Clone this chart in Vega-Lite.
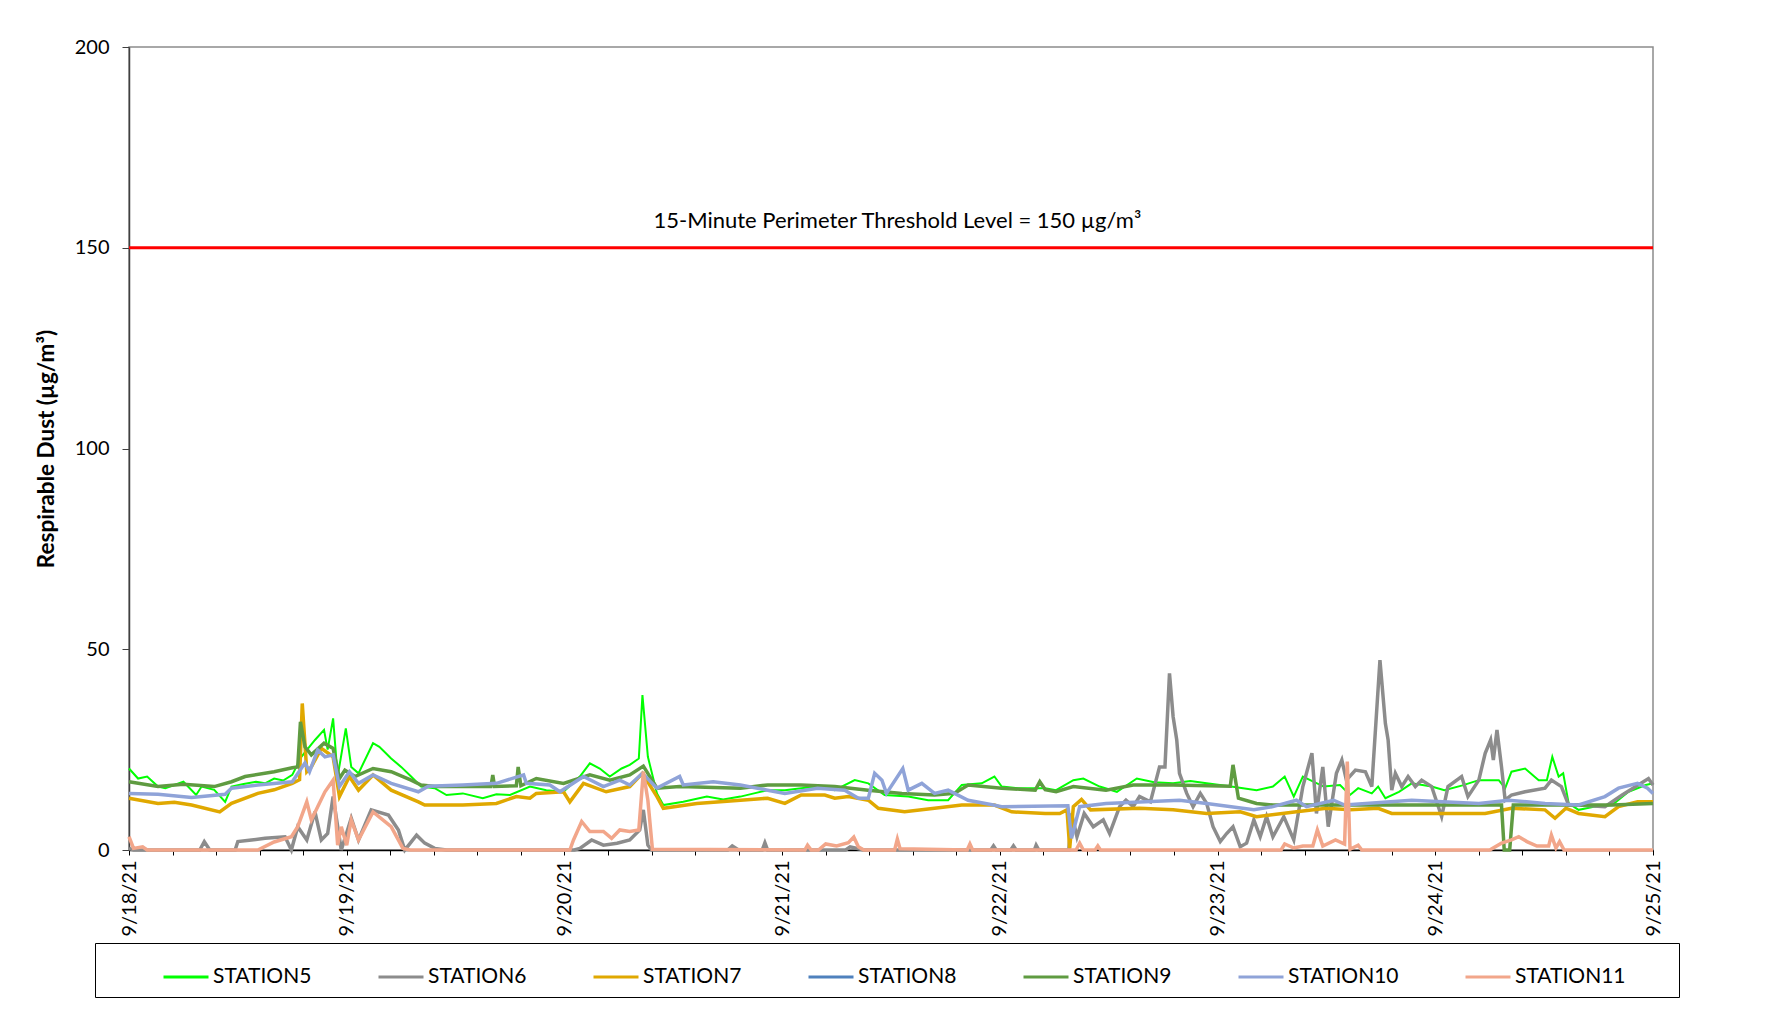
{
"$schema": "https://vega.github.io/schema/vega-lite/v6.json",
"width": 1524, "height": 803,
"autosize": "none",
"padding": {"left": 129, "top": 47, "right": 129, "bottom": 176},
"background": "white",
"config": {"view": {"stroke": "#8c8c8c", "strokeWidth": 1.5}, "font": "Lato", "text": {"font": "Lato"}},
"data": {"values": [
{"s":"STATION5","t":"2021-09-18T00:00","v":20.3},{"s":"STATION5","t":"2021-09-18T01:00","v":17.8},{"s":"STATION5","t":"2021-09-18T02:00","v":18.3},{"s":"STATION5","t":"2021-09-18T03:12","v":15.8},{"s":"STATION5","t":"2021-09-18T04:00","v":15.4},{"s":"STATION5","t":"2021-09-18T05:00","v":16.2},{"s":"STATION5","t":"2021-09-18T06:00","v":17.0},{"s":"STATION5","t":"2021-09-18T07:24","v":13.7},{"s":"STATION5","t":"2021-09-18T08:00","v":15.8},{"s":"STATION5","t":"2021-09-18T09:24","v":15.0},{"s":"STATION5","t":"2021-09-18T10:36","v":12.0},{"s":"STATION5","t":"2021-09-18T11:18","v":15.8},{"s":"STATION5","t":"2021-09-18T12:30","v":16.4},{"s":"STATION5","t":"2021-09-18T14:00","v":17.0},{"s":"STATION5","t":"2021-09-18T15:00","v":16.6},{"s":"STATION5","t":"2021-09-18T16:00","v":17.8},{"s":"STATION5","t":"2021-09-18T17:00","v":17.3},{"s":"STATION5","t":"2021-09-18T18:00","v":18.7},{"s":"STATION5","t":"2021-09-18T19:00","v":23.2},{"s":"STATION5","t":"2021-09-18T20:30","v":27.4},{"s":"STATION5","t":"2021-09-18T21:30","v":29.9},{"s":"STATION5","t":"2021-09-18T21:54","v":25.0},{"s":"STATION5","t":"2021-09-18T22:30","v":32.8},{"s":"STATION5","t":"2021-09-18T23:00","v":18.3},{"s":"STATION5","t":"2021-09-18T23:54","v":30.3},{"s":"STATION5","t":"2021-09-19T00:30","v":20.7},{"s":"STATION5","t":"2021-09-19T01:18","v":19.1},{"s":"STATION5","t":"2021-09-19T02:54","v":26.6},{"s":"STATION5","t":"2021-09-19T03:36","v":25.7},{"s":"STATION5","t":"2021-09-19T04:54","v":22.8},{"s":"STATION5","t":"2021-09-19T06:00","v":20.7},{"s":"STATION5","t":"2021-09-19T07:06","v":18.3},{"s":"STATION5","t":"2021-09-19T08:12","v":15.8},{"s":"STATION5","t":"2021-09-19T09:42","v":15.4},{"s":"STATION5","t":"2021-09-19T11:00","v":13.7},{"s":"STATION5","t":"2021-09-19T12:48","v":14.1},{"s":"STATION5","t":"2021-09-19T15:00","v":12.9},{"s":"STATION5","t":"2021-09-19T16:30","v":13.9},{"s":"STATION5","t":"2021-09-19T18:00","v":13.7},{"s":"STATION5","t":"2021-09-19T20:12","v":15.8},{"s":"STATION5","t":"2021-09-19T22:00","v":14.9},{"s":"STATION5","t":"2021-09-19T23:54","v":14.5},{"s":"STATION5","t":"2021-09-20T01:42","v":18.3},{"s":"STATION5","t":"2021-09-20T02:48","v":21.6},{"s":"STATION5","t":"2021-09-20T03:54","v":20.3},{"s":"STATION5","t":"2021-09-20T05:00","v":18.3},{"s":"STATION5","t":"2021-09-20T06:18","v":20.3},{"s":"STATION5","t":"2021-09-20T07:12","v":21.2},{"s":"STATION5","t":"2021-09-20T08:12","v":22.8},{"s":"STATION5","t":"2021-09-20T08:36","v":38.6},{"s":"STATION5","t":"2021-09-20T09:12","v":23.2},{"s":"STATION5","t":"2021-09-20T10:12","v":14.1},{"s":"STATION5","t":"2021-09-20T10:54","v":11.2},{"s":"STATION5","t":"2021-09-20T13:06","v":12.0},{"s":"STATION5","t":"2021-09-20T15:42","v":13.3},{"s":"STATION5","t":"2021-09-20T17:30","v":12.6},{"s":"STATION5","t":"2021-09-20T19:24","v":13.3},{"s":"STATION5","t":"2021-09-20T20:54","v":14.1},{"s":"STATION5","t":"2021-09-20T22:24","v":14.9},{"s":"STATION5","t":"2021-09-21T00:18","v":14.9},{"s":"STATION5","t":"2021-09-21T02:06","v":15.4},{"s":"STATION5","t":"2021-09-21T03:54","v":15.8},{"s":"STATION5","t":"2021-09-21T05:48","v":14.9},{"s":"STATION5","t":"2021-09-21T08:00","v":17.4},{"s":"STATION5","t":"2021-09-21T09:30","v":16.6},{"s":"STATION5","t":"2021-09-21T11:18","v":13.7},{"s":"STATION5","t":"2021-09-21T13:54","v":13.3},{"s":"STATION5","t":"2021-09-21T16:06","v":12.4},{"s":"STATION5","t":"2021-09-21T18:18","v":12.4},{"s":"STATION5","t":"2021-09-21T19:48","v":16.2},{"s":"STATION5","t":"2021-09-21T22:00","v":16.6},{"s":"STATION5","t":"2021-09-21T23:24","v":18.3},{"s":"STATION5","t":"2021-09-22T00:12","v":15.8},{"s":"STATION5","t":"2021-09-22T02:00","v":15.4},{"s":"STATION5","t":"2021-09-22T05:00","v":15.4},{"s":"STATION5","t":"2021-09-22T06:12","v":14.9},{"s":"STATION5","t":"2021-09-22T08:06","v":17.4},{"s":"STATION5","t":"2021-09-22T09:12","v":17.8},{"s":"STATION5","t":"2021-09-22T11:00","v":15.8},{"s":"STATION5","t":"2021-09-22T12:54","v":14.5},{"s":"STATION5","t":"2021-09-22T15:06","v":17.8},{"s":"STATION5","t":"2021-09-22T17:00","v":16.9},{"s":"STATION5","t":"2021-09-22T19:06","v":16.6},{"s":"STATION5","t":"2021-09-22T21:00","v":17.2},{"s":"STATION5","t":"2021-09-22T22:48","v":16.6},{"s":"STATION5","t":"2021-09-23T01:30","v":15.8},{"s":"STATION5","t":"2021-09-23T04:18","v":14.9},{"s":"STATION5","t":"2021-09-23T06:06","v":15.8},{"s":"STATION5","t":"2021-09-23T07:24","v":18.3},{"s":"STATION5","t":"2021-09-23T08:24","v":13.3},{"s":"STATION5","t":"2021-09-23T09:24","v":18.3},{"s":"STATION5","t":"2021-09-23T11:42","v":15.8},{"s":"STATION5","t":"2021-09-23T13:30","v":16.2},{"s":"STATION5","t":"2021-09-23T14:36","v":13.7},{"s":"STATION5","t":"2021-09-23T15:30","v":15.4},{"s":"STATION5","t":"2021-09-23T17:00","v":14.1},{"s":"STATION5","t":"2021-09-23T17:42","v":15.8},{"s":"STATION5","t":"2021-09-23T18:30","v":12.9},{"s":"STATION5","t":"2021-09-23T20:00","v":14.5},{"s":"STATION5","t":"2021-09-23T21:24","v":16.6},{"s":"STATION5","t":"2021-09-23T23:36","v":15.8},{"s":"STATION5","t":"2021-09-24T01:00","v":14.9},{"s":"STATION5","t":"2021-09-24T03:00","v":16.1},{"s":"STATION5","t":"2021-09-24T04:48","v":17.4},{"s":"STATION5","t":"2021-09-24T07:00","v":17.4},{"s":"STATION5","t":"2021-09-24T07:42","v":15.4},{"s":"STATION5","t":"2021-09-24T08:24","v":19.5},{"s":"STATION5","t":"2021-09-24T09:54","v":20.3},{"s":"STATION5","t":"2021-09-24T11:24","v":17.4},{"s":"STATION5","t":"2021-09-24T12:18","v":17.4},{"s":"STATION5","t":"2021-09-24T12:54","v":23.2},{"s":"STATION5","t":"2021-09-24T13:36","v":18.3},{"s":"STATION5","t":"2021-09-24T14:06","v":19.1},{"s":"STATION5","t":"2021-09-24T14:42","v":11.6},{"s":"STATION5","t":"2021-09-24T15:48","v":10.0},{"s":"STATION5","t":"2021-09-24T17:36","v":10.8},{"s":"STATION5","t":"2021-09-24T19:30","v":11.2},{"s":"STATION5","t":"2021-09-24T21:18","v":14.5},{"s":"STATION5","t":"2021-09-24T23:12","v":16.2},{"s":"STATION5","t":"2021-09-25T00:00","v":16.6},
{"s":"STATION6","t":"2021-09-18T00:00","v":0.4},{"s":"STATION6","t":"2021-09-18T00:30","v":0},{"s":"STATION6","t":"2021-09-18T07:48","v":0},{"s":"STATION6","t":"2021-09-18T08:18","v":2.1},{"s":"STATION6","t":"2021-09-18T08:54","v":0},{"s":"STATION6","t":"2021-09-18T11:42","v":0},{"s":"STATION6","t":"2021-09-18T12:00","v":2.1},{"s":"STATION6","t":"2021-09-18T13:30","v":2.5},{"s":"STATION6","t":"2021-09-18T15:00","v":2.9},{"s":"STATION6","t":"2021-09-18T17:12","v":3.3},{"s":"STATION6","t":"2021-09-18T17:54","v":0},{"s":"STATION6","t":"2021-09-18T18:36","v":5.8},{"s":"STATION6","t":"2021-09-18T19:36","v":2.5},{"s":"STATION6","t":"2021-09-18T20:30","v":9.5},{"s":"STATION6","t":"2021-09-18T21:12","v":2.5},{"s":"STATION6","t":"2021-09-18T21:54","v":4.1},{"s":"STATION6","t":"2021-09-18T22:30","v":13.3},{"s":"STATION6","t":"2021-09-18T23:24","v":0},{"s":"STATION6","t":"2021-09-19T00:30","v":7.9},{"s":"STATION6","t":"2021-09-19T01:18","v":2.5},{"s":"STATION6","t":"2021-09-19T02:42","v":10.0},{"s":"STATION6","t":"2021-09-19T04:36","v":8.7},{"s":"STATION6","t":"2021-09-19T05:42","v":5.0},{"s":"STATION6","t":"2021-09-19T06:24","v":0},{"s":"STATION6","t":"2021-09-19T07:42","v":3.7},{"s":"STATION6","t":"2021-09-19T08:36","v":1.7},{"s":"STATION6","t":"2021-09-19T09:42","v":0.4},{"s":"STATION6","t":"2021-09-19T11:00","v":0},{"s":"STATION6","t":"2021-09-20T01:06","v":0},{"s":"STATION6","t":"2021-09-20T01:42","v":0.4},{"s":"STATION6","t":"2021-09-20T03:00","v":2.5},{"s":"STATION6","t":"2021-09-20T04:18","v":1.2},{"s":"STATION6","t":"2021-09-20T05:48","v":1.7},{"s":"STATION6","t":"2021-09-20T07:12","v":2.5},{"s":"STATION6","t":"2021-09-20T08:18","v":5.0},{"s":"STATION6","t":"2021-09-20T08:42","v":10.0},{"s":"STATION6","t":"2021-09-20T09:12","v":1.2},{"s":"STATION6","t":"2021-09-20T09:36","v":0},{"s":"STATION6","t":"2021-09-20T18:00","v":0},{"s":"STATION6","t":"2021-09-20T18:30","v":1.0},{"s":"STATION6","t":"2021-09-20T19:12","v":0},{"s":"STATION6","t":"2021-09-20T21:48","v":0},{"s":"STATION6","t":"2021-09-20T22:06","v":1.8},{"s":"STATION6","t":"2021-09-20T22:24","v":0},{"s":"STATION6","t":"2021-09-21T07:00","v":0},{"s":"STATION6","t":"2021-09-21T07:30","v":0.8},{"s":"STATION6","t":"2021-09-21T09:00","v":0},{"s":"STATION6","t":"2021-09-21T23:00","v":0},{"s":"STATION6","t":"2021-09-21T23:18","v":1.0},{"s":"STATION6","t":"2021-09-21T23:36","v":0},{"s":"STATION6","t":"2021-09-22T01:12","v":0},{"s":"STATION6","t":"2021-09-22T01:30","v":1.0},{"s":"STATION6","t":"2021-09-22T01:48","v":0},{"s":"STATION6","t":"2021-09-22T03:48","v":0},{"s":"STATION6","t":"2021-09-22T04:00","v":1.2},{"s":"STATION6","t":"2021-09-22T04:18","v":0},{"s":"STATION6","t":"2021-09-22T07:36","v":0},{"s":"STATION6","t":"2021-09-22T07:54","v":9.1},{"s":"STATION6","t":"2021-09-22T08:30","v":3.3},{"s":"STATION6","t":"2021-09-22T09:18","v":9.1},{"s":"STATION6","t":"2021-09-22T10:18","v":5.8},{"s":"STATION6","t":"2021-09-22T11:24","v":7.5},{"s":"STATION6","t":"2021-09-22T12:06","v":4.1},{"s":"STATION6","t":"2021-09-22T13:12","v":10.8},{"s":"STATION6","t":"2021-09-22T13:54","v":12.4},{"s":"STATION6","t":"2021-09-22T14:42","v":10.8},{"s":"STATION6","t":"2021-09-22T15:24","v":13.3},{"s":"STATION6","t":"2021-09-22T16:36","v":12.0},{"s":"STATION6","t":"2021-09-22T17:36","v":20.7},{"s":"STATION6","t":"2021-09-22T18:12","v":20.7},{"s":"STATION6","t":"2021-09-22T18:42","v":44.0},{"s":"STATION6","t":"2021-09-22T19:06","v":33.2},{"s":"STATION6","t":"2021-09-22T19:30","v":27.4},{"s":"STATION6","t":"2021-09-22T19:48","v":19.1},{"s":"STATION6","t":"2021-09-22T20:36","v":14.1},{"s":"STATION6","t":"2021-09-22T21:18","v":10.8},{"s":"STATION6","t":"2021-09-22T22:06","v":14.1},{"s":"STATION6","t":"2021-09-22T22:48","v":11.6},{"s":"STATION6","t":"2021-09-22T23:30","v":5.8},{"s":"STATION6","t":"2021-09-23T00:18","v":2.1},{"s":"STATION6","t":"2021-09-23T01:00","v":4.1},{"s":"STATION6","t":"2021-09-23T01:42","v":5.8},{"s":"STATION6","t":"2021-09-23T02:30","v":0.8},{"s":"STATION6","t":"2021-09-23T03:12","v":1.7},{"s":"STATION6","t":"2021-09-23T04:00","v":7.5},{"s":"STATION6","t":"2021-09-23T04:42","v":3.3},{"s":"STATION6","t":"2021-09-23T05:24","v":8.3},{"s":"STATION6","t":"2021-09-23T06:06","v":3.3},{"s":"STATION6","t":"2021-09-23T07:18","v":8.3},{"s":"STATION6","t":"2021-09-23T08:24","v":2.5},{"s":"STATION6","t":"2021-09-23T09:24","v":15.8},{"s":"STATION6","t":"2021-09-23T10:24","v":24.1},{"s":"STATION6","t":"2021-09-23T10:54","v":9.1},{"s":"STATION6","t":"2021-09-23T11:36","v":20.7},{"s":"STATION6","t":"2021-09-23T12:12","v":5.8},{"s":"STATION6","t":"2021-09-23T13:06","v":19.1},{"s":"STATION6","t":"2021-09-23T13:42","v":22.4},{"s":"STATION6","t":"2021-09-23T14:12","v":17.4},{"s":"STATION6","t":"2021-09-23T15:12","v":19.9},{"s":"STATION6","t":"2021-09-23T16:18","v":19.5},{"s":"STATION6","t":"2021-09-23T17:00","v":15.8},{"s":"STATION6","t":"2021-09-23T17:54","v":47.3},{"s":"STATION6","t":"2021-09-23T18:30","v":31.5},{"s":"STATION6","t":"2021-09-23T18:48","v":27.4},{"s":"STATION6","t":"2021-09-23T19:12","v":14.9},{"s":"STATION6","t":"2021-09-23T19:36","v":19.1},{"s":"STATION6","t":"2021-09-23T20:18","v":15.8},{"s":"STATION6","t":"2021-09-23T21:00","v":18.3},{"s":"STATION6","t":"2021-09-23T21:48","v":15.8},{"s":"STATION6","t":"2021-09-23T22:30","v":17.4},{"s":"STATION6","t":"2021-09-23T23:36","v":15.8},{"s":"STATION6","t":"2021-09-24T00:42","v":8.3},{"s":"STATION6","t":"2021-09-24T01:24","v":15.8},{"s":"STATION6","t":"2021-09-24T02:54","v":18.3},{"s":"STATION6","t":"2021-09-24T03:36","v":13.3},{"s":"STATION6","t":"2021-09-24T04:48","v":17.4},{"s":"STATION6","t":"2021-09-24T05:30","v":24.1},{"s":"STATION6","t":"2021-09-24T06:06","v":27.4},{"s":"STATION6","t":"2021-09-24T06:24","v":22.4},{"s":"STATION6","t":"2021-09-24T06:48","v":29.9},{"s":"STATION6","t":"2021-09-24T07:18","v":20.7},{"s":"STATION6","t":"2021-09-24T07:42","v":12.4},{"s":"STATION6","t":"2021-09-24T08:24","v":13.7},{"s":"STATION6","t":"2021-09-24T09:54","v":14.5},{"s":"STATION6","t":"2021-09-24T12:06","v":15.4},{"s":"STATION6","t":"2021-09-24T12:48","v":17.4},{"s":"STATION6","t":"2021-09-24T13:54","v":15.8},{"s":"STATION6","t":"2021-09-24T14:42","v":11.2},{"s":"STATION6","t":"2021-09-24T15:48","v":11.2},{"s":"STATION6","t":"2021-09-24T18:42","v":10.8},{"s":"STATION6","t":"2021-09-24T20:36","v":13.7},{"s":"STATION6","t":"2021-09-24T22:06","v":15.8},{"s":"STATION6","t":"2021-09-24T23:30","v":17.8},{"s":"STATION6","t":"2021-09-25T00:00","v":16.2},
{"s":"STATION7","t":"2021-09-18T00:00","v":12.9},{"s":"STATION7","t":"2021-09-18T03:12","v":11.6},{"s":"STATION7","t":"2021-09-18T05:00","v":11.9},{"s":"STATION7","t":"2021-09-18T06:54","v":11.2},{"s":"STATION7","t":"2021-09-18T10:00","v":9.5},{"s":"STATION7","t":"2021-09-18T11:18","v":11.6},{"s":"STATION7","t":"2021-09-18T14:12","v":14.1},{"s":"STATION7","t":"2021-09-18T16:00","v":15.0},{"s":"STATION7","t":"2021-09-18T18:00","v":16.6},{"s":"STATION7","t":"2021-09-18T18:48","v":17.5},{"s":"STATION7","t":"2021-09-18T19:06","v":36.5},{"s":"STATION7","t":"2021-09-18T19:36","v":19.5},{"s":"STATION7","t":"2021-09-18T20:06","v":20.7},{"s":"STATION7","t":"2021-09-18T21:12","v":25.3},{"s":"STATION7","t":"2021-09-18T22:30","v":23.2},{"s":"STATION7","t":"2021-09-18T23:12","v":13.3},{"s":"STATION7","t":"2021-09-19T00:18","v":18.3},{"s":"STATION7","t":"2021-09-19T01:18","v":14.9},{"s":"STATION7","t":"2021-09-19T02:54","v":18.7},{"s":"STATION7","t":"2021-09-19T04:54","v":14.9},{"s":"STATION7","t":"2021-09-19T07:54","v":12.0},{"s":"STATION7","t":"2021-09-19T08:36","v":11.2},{"s":"STATION7","t":"2021-09-19T12:48","v":11.2},{"s":"STATION7","t":"2021-09-19T16:30","v":11.6},{"s":"STATION7","t":"2021-09-19T18:42","v":13.3},{"s":"STATION7","t":"2021-09-19T20:12","v":12.9},{"s":"STATION7","t":"2021-09-19T20:54","v":14.1},{"s":"STATION7","t":"2021-09-19T23:54","v":14.5},{"s":"STATION7","t":"2021-09-20T00:36","v":12.0},{"s":"STATION7","t":"2021-09-20T02:06","v":16.6},{"s":"STATION7","t":"2021-09-20T04:36","v":14.5},{"s":"STATION7","t":"2021-09-20T07:12","v":15.8},{"s":"STATION7","t":"2021-09-20T08:36","v":19.1},{"s":"STATION7","t":"2021-09-20T10:12","v":13.3},{"s":"STATION7","t":"2021-09-20T10:54","v":10.4},{"s":"STATION7","t":"2021-09-20T14:36","v":11.6},{"s":"STATION7","t":"2021-09-20T19:24","v":12.4},{"s":"STATION7","t":"2021-09-20T22:24","v":12.9},{"s":"STATION7","t":"2021-09-21T00:18","v":11.6},{"s":"STATION7","t":"2021-09-21T02:06","v":13.7},{"s":"STATION7","t":"2021-09-21T04:42","v":13.7},{"s":"STATION7","t":"2021-09-21T05:48","v":12.9},{"s":"STATION7","t":"2021-09-21T07:18","v":13.3},{"s":"STATION7","t":"2021-09-21T09:30","v":12.4},{"s":"STATION7","t":"2021-09-21T10:36","v":10.4},{"s":"STATION7","t":"2021-09-21T13:30","v":9.5},{"s":"STATION7","t":"2021-09-21T16:48","v":10.4},{"s":"STATION7","t":"2021-09-21T19:48","v":11.2},{"s":"STATION7","t":"2021-09-21T23:24","v":11.2},{"s":"STATION7","t":"2021-09-22T01:18","v":9.5},{"s":"STATION7","t":"2021-09-22T05:00","v":9.1},{"s":"STATION7","t":"2021-09-22T06:36","v":9.1},{"s":"STATION7","t":"2021-09-22T07:24","v":10.0},{"s":"STATION7","t":"2021-09-22T07:42","v":0.4},{"s":"STATION7","t":"2021-09-22T08:06","v":10.8},{"s":"STATION7","t":"2021-09-22T09:00","v":12.6},{"s":"STATION7","t":"2021-09-22T10:00","v":10.0},{"s":"STATION7","t":"2021-09-22T15:24","v":10.4},{"s":"STATION7","t":"2021-09-22T19:06","v":10.0},{"s":"STATION7","t":"2021-09-22T22:48","v":9.1},{"s":"STATION7","t":"2021-09-23T02:30","v":9.5},{"s":"STATION7","t":"2021-09-23T04:18","v":8.3},{"s":"STATION7","t":"2021-09-23T08:42","v":9.5},{"s":"STATION7","t":"2021-09-23T12:00","v":10.4},{"s":"STATION7","t":"2021-09-23T14:36","v":10.0},{"s":"STATION7","t":"2021-09-23T17:42","v":10.4},{"s":"STATION7","t":"2021-09-23T19:12","v":9.1},{"s":"STATION7","t":"2021-09-24T00:42","v":9.1},{"s":"STATION7","t":"2021-09-24T05:30","v":9.1},{"s":"STATION7","t":"2021-09-24T08:24","v":10.4},{"s":"STATION7","t":"2021-09-24T12:06","v":10.0},{"s":"STATION7","t":"2021-09-24T13:12","v":7.9},{"s":"STATION7","t":"2021-09-24T14:24","v":10.4},{"s":"STATION7","t":"2021-09-24T15:48","v":9.1},{"s":"STATION7","t":"2021-09-24T18:42","v":8.3},{"s":"STATION7","t":"2021-09-24T20:12","v":10.8},{"s":"STATION7","t":"2021-09-24T22:18","v":12.0},{"s":"STATION7","t":"2021-09-25T00:00","v":12.0},
{"s":"STATION9","t":"2021-09-18T00:00","v":17.0},{"s":"STATION9","t":"2021-09-18T03:12","v":15.8},{"s":"STATION9","t":"2021-09-18T06:00","v":16.4},{"s":"STATION9","t":"2021-09-18T09:24","v":15.8},{"s":"STATION9","t":"2021-09-18T11:18","v":17.0},{"s":"STATION9","t":"2021-09-18T12:48","v":18.3},{"s":"STATION9","t":"2021-09-18T16:00","v":19.5},{"s":"STATION9","t":"2021-09-18T18:00","v":20.5},{"s":"STATION9","t":"2021-09-18T18:36","v":20.7},{"s":"STATION9","t":"2021-09-18T18:54","v":31.9},{"s":"STATION9","t":"2021-09-18T19:24","v":25.7},{"s":"STATION9","t":"2021-09-18T20:06","v":23.7},{"s":"STATION9","t":"2021-09-18T21:30","v":26.6},{"s":"STATION9","t":"2021-09-18T22:30","v":25.3},{"s":"STATION9","t":"2021-09-18T23:12","v":17.8},{"s":"STATION9","t":"2021-09-18T23:48","v":19.9},{"s":"STATION9","t":"2021-09-19T00:54","v":18.3},{"s":"STATION9","t":"2021-09-19T02:54","v":20.3},{"s":"STATION9","t":"2021-09-19T04:54","v":19.5},{"s":"STATION9","t":"2021-09-19T07:06","v":17.4},{"s":"STATION9","t":"2021-09-19T08:12","v":16.2},{"s":"STATION9","t":"2021-09-19T09:42","v":15.8},{"s":"STATION9","t":"2021-09-19T12:48","v":15.8},{"s":"STATION9","t":"2021-09-19T15:54","v":15.8},{"s":"STATION9","t":"2021-09-19T16:06","v":18.7},{"s":"STATION9","t":"2021-09-19T16:18","v":15.8},{"s":"STATION9","t":"2021-09-19T18:42","v":16.0},{"s":"STATION9","t":"2021-09-19T18:54","v":20.7},{"s":"STATION9","t":"2021-09-19T19:12","v":16.0},{"s":"STATION9","t":"2021-09-19T20:54","v":17.8},{"s":"STATION9","t":"2021-09-19T23:54","v":16.6},{"s":"STATION9","t":"2021-09-20T02:48","v":18.7},{"s":"STATION9","t":"2021-09-20T05:00","v":17.4},{"s":"STATION9","t":"2021-09-20T07:12","v":18.7},{"s":"STATION9","t":"2021-09-20T08:42","v":20.9},{"s":"STATION9","t":"2021-09-20T10:12","v":15.4},{"s":"STATION9","t":"2021-09-20T12:42","v":15.8},{"s":"STATION9","t":"2021-09-20T19:24","v":15.4},{"s":"STATION9","t":"2021-09-20T22:24","v":16.2},{"s":"STATION9","t":"2021-09-21T02:06","v":16.2},{"s":"STATION9","t":"2021-09-21T05:48","v":15.8},{"s":"STATION9","t":"2021-09-21T09:30","v":14.9},{"s":"STATION9","t":"2021-09-21T13:12","v":14.1},{"s":"STATION9","t":"2021-09-21T16:48","v":13.7},{"s":"STATION9","t":"2021-09-21T19:00","v":14.1},{"s":"STATION9","t":"2021-09-21T20:30","v":16.2},{"s":"STATION9","t":"2021-09-22T00:12","v":15.4},{"s":"STATION9","t":"2021-09-22T03:54","v":14.9},{"s":"STATION9","t":"2021-09-22T04:24","v":17.0},{"s":"STATION9","t":"2021-09-22T05:00","v":15.0},{"s":"STATION9","t":"2021-09-22T06:12","v":14.5},{"s":"STATION9","t":"2021-09-22T08:06","v":15.8},{"s":"STATION9","t":"2021-09-22T11:42","v":14.9},{"s":"STATION9","t":"2021-09-22T14:42","v":16.2},{"s":"STATION9","t":"2021-09-22T19:06","v":16.2},{"s":"STATION9","t":"2021-09-23T01:24","v":15.9},{"s":"STATION9","t":"2021-09-23T01:42","v":21.2},{"s":"STATION9","t":"2021-09-23T02:18","v":12.9},{"s":"STATION9","t":"2021-09-23T04:18","v":11.6},{"s":"STATION9","t":"2021-09-23T06:06","v":11.2},{"s":"STATION9","t":"2021-09-23T14:36","v":11.2},{"s":"STATION9","t":"2021-09-24T01:00","v":11.2},{"s":"STATION9","t":"2021-09-24T07:18","v":11.2},{"s":"STATION9","t":"2021-09-24T07:36","v":0},{"s":"STATION9","t":"2021-09-24T08:12","v":0},{"s":"STATION9","t":"2021-09-24T08:36","v":11.2},{"s":"STATION9","t":"2021-09-24T19:30","v":11.2},{"s":"STATION9","t":"2021-09-25T00:00","v":11.6},
{"s":"STATION10","t":"2021-09-18T00:00","v":14.1},{"s":"STATION10","t":"2021-09-18T03:12","v":13.9},{"s":"STATION10","t":"2021-09-18T06:54","v":13.1},{"s":"STATION10","t":"2021-09-18T10:36","v":13.9},{"s":"STATION10","t":"2021-09-18T11:18","v":15.4},{"s":"STATION10","t":"2021-09-18T14:12","v":16.2},{"s":"STATION10","t":"2021-09-18T18:00","v":17.0},{"s":"STATION10","t":"2021-09-18T19:24","v":21.7},{"s":"STATION10","t":"2021-09-18T19:54","v":19.5},{"s":"STATION10","t":"2021-09-18T20:48","v":24.9},{"s":"STATION10","t":"2021-09-18T21:36","v":23.2},{"s":"STATION10","t":"2021-09-18T22:30","v":23.7},{"s":"STATION10","t":"2021-09-18T23:12","v":15.8},{"s":"STATION10","t":"2021-09-19T00:18","v":19.5},{"s":"STATION10","t":"2021-09-19T01:18","v":16.6},{"s":"STATION10","t":"2021-09-19T02:54","v":18.7},{"s":"STATION10","t":"2021-09-19T04:54","v":16.6},{"s":"STATION10","t":"2021-09-19T07:54","v":14.5},{"s":"STATION10","t":"2021-09-19T09:00","v":15.9},{"s":"STATION10","t":"2021-09-19T12:48","v":16.2},{"s":"STATION10","t":"2021-09-19T16:30","v":16.6},{"s":"STATION10","t":"2021-09-19T19:30","v":18.7},{"s":"STATION10","t":"2021-09-19T19:48","v":16.6},{"s":"STATION10","t":"2021-09-19T22:24","v":16.2},{"s":"STATION10","t":"2021-09-19T23:30","v":14.5},{"s":"STATION10","t":"2021-09-20T02:06","v":18.3},{"s":"STATION10","t":"2021-09-20T04:18","v":15.8},{"s":"STATION10","t":"2021-09-20T06:06","v":17.4},{"s":"STATION10","t":"2021-09-20T07:12","v":16.2},{"s":"STATION10","t":"2021-09-20T08:36","v":19.1},{"s":"STATION10","t":"2021-09-20T10:12","v":15.4},{"s":"STATION10","t":"2021-09-20T12:42","v":18.3},{"s":"STATION10","t":"2021-09-20T13:06","v":16.2},{"s":"STATION10","t":"2021-09-20T16:24","v":17.0},{"s":"STATION10","t":"2021-09-20T19:24","v":16.2},{"s":"STATION10","t":"2021-09-20T22:24","v":14.9},{"s":"STATION10","t":"2021-09-21T00:18","v":14.1},{"s":"STATION10","t":"2021-09-21T03:54","v":15.4},{"s":"STATION10","t":"2021-09-21T06:54","v":14.9},{"s":"STATION10","t":"2021-09-21T08:24","v":12.9},{"s":"STATION10","t":"2021-09-21T09:30","v":12.9},{"s":"STATION10","t":"2021-09-21T10:12","v":19.1},{"s":"STATION10","t":"2021-09-21T11:00","v":17.4},{"s":"STATION10","t":"2021-09-21T11:30","v":14.1},{"s":"STATION10","t":"2021-09-21T13:18","v":20.3},{"s":"STATION10","t":"2021-09-21T13:54","v":14.9},{"s":"STATION10","t":"2021-09-21T15:24","v":16.6},{"s":"STATION10","t":"2021-09-21T16:48","v":14.1},{"s":"STATION10","t":"2021-09-21T18:18","v":14.9},{"s":"STATION10","t":"2021-09-21T20:30","v":12.4},{"s":"STATION10","t":"2021-09-21T23:18","v":11.2},{"s":"STATION10","t":"2021-09-22T00:12","v":10.8},{"s":"STATION10","t":"2021-09-22T07:30","v":11.0},{"s":"STATION10","t":"2021-09-22T07:54","v":2.9},{"s":"STATION10","t":"2021-09-22T08:48","v":10.8},{"s":"STATION10","t":"2021-09-22T11:42","v":11.6},{"s":"STATION10","t":"2021-09-22T19:48","v":12.4},{"s":"STATION10","t":"2021-09-22T22:48","v":11.6},{"s":"STATION10","t":"2021-09-23T04:00","v":10.0},{"s":"STATION10","t":"2021-09-23T06:06","v":10.8},{"s":"STATION10","t":"2021-09-23T08:42","v":12.4},{"s":"STATION10","t":"2021-09-23T09:48","v":10.8},{"s":"STATION10","t":"2021-09-23T12:48","v":12.4},{"s":"STATION10","t":"2021-09-23T14:00","v":11.2},{"s":"STATION10","t":"2021-09-23T21:24","v":12.4},{"s":"STATION10","t":"2021-09-24T04:48","v":11.6},{"s":"STATION10","t":"2021-09-24T08:06","v":12.4},{"s":"STATION10","t":"2021-09-24T12:06","v":11.6},{"s":"STATION10","t":"2021-09-24T15:48","v":11.2},{"s":"STATION10","t":"2021-09-24T18:42","v":13.3},{"s":"STATION10","t":"2021-09-24T20:12","v":15.4},{"s":"STATION10","t":"2021-09-24T22:18","v":16.6},{"s":"STATION10","t":"2021-09-24T23:24","v":15.4},{"s":"STATION10","t":"2021-09-25T00:00","v":14.1},
{"s":"STATION11","t":"2021-09-18T00:00","v":3.3},{"s":"STATION11","t":"2021-09-18T00:30","v":0.4},{"s":"STATION11","t":"2021-09-18T01:30","v":0.8},{"s":"STATION11","t":"2021-09-18T02:00","v":0},{"s":"STATION11","t":"2021-09-18T14:12","v":0},{"s":"STATION11","t":"2021-09-18T16:00","v":2.0},{"s":"STATION11","t":"2021-09-18T17:54","v":3.3},{"s":"STATION11","t":"2021-09-18T18:36","v":5.8},{"s":"STATION11","t":"2021-09-18T19:36","v":12.0},{"s":"STATION11","t":"2021-09-18T20:06","v":7.5},{"s":"STATION11","t":"2021-09-18T20:48","v":10.8},{"s":"STATION11","t":"2021-09-18T21:36","v":14.5},{"s":"STATION11","t":"2021-09-18T22:30","v":17.4},{"s":"STATION11","t":"2021-09-18T23:00","v":1.2},{"s":"STATION11","t":"2021-09-18T23:24","v":5.8},{"s":"STATION11","t":"2021-09-19T00:00","v":1.2},{"s":"STATION11","t":"2021-09-19T00:30","v":7.5},{"s":"STATION11","t":"2021-09-19T01:18","v":2.5},{"s":"STATION11","t":"2021-09-19T02:54","v":9.5},{"s":"STATION11","t":"2021-09-19T04:54","v":5.8},{"s":"STATION11","t":"2021-09-19T06:12","v":0.4},{"s":"STATION11","t":"2021-09-19T07:00","v":0},{"s":"STATION11","t":"2021-09-20T00:36","v":0},{"s":"STATION11","t":"2021-09-20T01:00","v":2.5},{"s":"STATION11","t":"2021-09-20T01:54","v":7.1},{"s":"STATION11","t":"2021-09-20T02:48","v":4.6},{"s":"STATION11","t":"2021-09-20T04:18","v":4.6},{"s":"STATION11","t":"2021-09-20T05:12","v":2.9},{"s":"STATION11","t":"2021-09-20T06:06","v":5.0},{"s":"STATION11","t":"2021-09-20T07:12","v":4.6},{"s":"STATION11","t":"2021-09-20T08:12","v":5.0},{"s":"STATION11","t":"2021-09-20T08:42","v":19.5},{"s":"STATION11","t":"2021-09-20T09:12","v":12.4},{"s":"STATION11","t":"2021-09-20T09:42","v":0.2},{"s":"STATION11","t":"2021-09-21T02:30","v":0},{"s":"STATION11","t":"2021-09-21T02:48","v":1.2},{"s":"STATION11","t":"2021-09-21T03:12","v":0},{"s":"STATION11","t":"2021-09-21T04:00","v":0},{"s":"STATION11","t":"2021-09-21T04:48","v":1.5},{"s":"STATION11","t":"2021-09-21T06:00","v":1.0},{"s":"STATION11","t":"2021-09-21T07:18","v":1.8},{"s":"STATION11","t":"2021-09-21T07:54","v":3.2},{"s":"STATION11","t":"2021-09-21T08:24","v":0.8},{"s":"STATION11","t":"2021-09-21T09:00","v":0},{"s":"STATION11","t":"2021-09-21T12:24","v":0},{"s":"STATION11","t":"2021-09-21T12:42","v":2.7},{"s":"STATION11","t":"2021-09-21T13:00","v":0.3},{"s":"STATION11","t":"2021-09-21T20:24","v":0},{"s":"STATION11","t":"2021-09-21T20:42","v":1.5},{"s":"STATION11","t":"2021-09-21T21:00","v":0},{"s":"STATION11","t":"2021-09-22T08:24","v":0},{"s":"STATION11","t":"2021-09-22T08:48","v":1.7},{"s":"STATION11","t":"2021-09-22T09:12","v":0},{"s":"STATION11","t":"2021-09-22T10:30","v":0},{"s":"STATION11","t":"2021-09-22T10:48","v":1.0},{"s":"STATION11","t":"2021-09-22T11:06","v":0},{"s":"STATION11","t":"2021-09-23T07:00","v":0},{"s":"STATION11","t":"2021-09-23T07:24","v":1.5},{"s":"STATION11","t":"2021-09-23T08:24","v":0.5},{"s":"STATION11","t":"2021-09-23T09:24","v":1.0},{"s":"STATION11","t":"2021-09-23T10:30","v":1.0},{"s":"STATION11","t":"2021-09-23T11:00","v":5.0},{"s":"STATION11","t":"2021-09-23T11:36","v":1.0},{"s":"STATION11","t":"2021-09-23T13:00","v":2.5},{"s":"STATION11","t":"2021-09-23T14:00","v":1.5},{"s":"STATION11","t":"2021-09-23T14:18","v":22.0},{"s":"STATION11","t":"2021-09-23T14:36","v":0.2},{"s":"STATION11","t":"2021-09-23T15:30","v":1.2},{"s":"STATION11","t":"2021-09-23T15:54","v":0},{"s":"STATION11","t":"2021-09-24T06:00","v":0},{"s":"STATION11","t":"2021-09-24T07:18","v":1.7},{"s":"STATION11","t":"2021-09-24T08:24","v":2.5},{"s":"STATION11","t":"2021-09-24T09:12","v":3.3},{"s":"STATION11","t":"2021-09-24T10:06","v":2.1},{"s":"STATION11","t":"2021-09-24T11:12","v":1.0},{"s":"STATION11","t":"2021-09-24T12:30","v":1.0},{"s":"STATION11","t":"2021-09-24T12:48","v":3.7},{"s":"STATION11","t":"2021-09-24T13:18","v":0.5},{"s":"STATION11","t":"2021-09-24T13:42","v":2.1},{"s":"STATION11","t":"2021-09-24T14:12","v":0},{"s":"STATION11","t":"2021-09-25T00:00","v":0}
]},
"layer": [
{
"transform": [{"filter": "datum.s == 'STATION5'"}],
"mark": {"type": "line", "strokeWidth": 2},
"encoding": {
"x": {"field": "t", "type": "temporal",
 "scale": {"domain": [{"year": 2021, "month": 9, "date": 18}, {"year": 2021, "month": 9, "date": 25}]},
 "axis": {"title": null, "grid": false,
  "values": [
   {"year":2021,"month":9,"date":18,"hours":0,"minutes":0},{"year":2021,"month":9,"date":18,"hours":4,"minutes":48},{"year":2021,"month":9,"date":18,"hours":9,"minutes":36},{"year":2021,"month":9,"date":18,"hours":14,"minutes":24},{"year":2021,"month":9,"date":18,"hours":19,"minutes":12},
   {"year":2021,"month":9,"date":19,"hours":0,"minutes":0},{"year":2021,"month":9,"date":19,"hours":4,"minutes":48},{"year":2021,"month":9,"date":19,"hours":9,"minutes":36},{"year":2021,"month":9,"date":19,"hours":14,"minutes":24},{"year":2021,"month":9,"date":19,"hours":19,"minutes":12},
   {"year":2021,"month":9,"date":20,"hours":0,"minutes":0},{"year":2021,"month":9,"date":20,"hours":4,"minutes":48},{"year":2021,"month":9,"date":20,"hours":9,"minutes":36},{"year":2021,"month":9,"date":20,"hours":14,"minutes":24},{"year":2021,"month":9,"date":20,"hours":19,"minutes":12},
   {"year":2021,"month":9,"date":21,"hours":0,"minutes":0},{"year":2021,"month":9,"date":21,"hours":4,"minutes":48},{"year":2021,"month":9,"date":21,"hours":9,"minutes":36},{"year":2021,"month":9,"date":21,"hours":14,"minutes":24},{"year":2021,"month":9,"date":21,"hours":19,"minutes":12},
   {"year":2021,"month":9,"date":22,"hours":0,"minutes":0},{"year":2021,"month":9,"date":22,"hours":4,"minutes":48},{"year":2021,"month":9,"date":22,"hours":9,"minutes":36},{"year":2021,"month":9,"date":22,"hours":14,"minutes":24},{"year":2021,"month":9,"date":22,"hours":19,"minutes":12},
   {"year":2021,"month":9,"date":23,"hours":0,"minutes":0},{"year":2021,"month":9,"date":23,"hours":4,"minutes":48},{"year":2021,"month":9,"date":23,"hours":9,"minutes":36},{"year":2021,"month":9,"date":23,"hours":14,"minutes":24},{"year":2021,"month":9,"date":23,"hours":19,"minutes":12},
   {"year":2021,"month":9,"date":24,"hours":0,"minutes":0},{"year":2021,"month":9,"date":24,"hours":4,"minutes":48},{"year":2021,"month":9,"date":24,"hours":9,"minutes":36},{"year":2021,"month":9,"date":24,"hours":14,"minutes":24},{"year":2021,"month":9,"date":24,"hours":19,"minutes":12},
   {"year":2021,"month":9,"date":25,"hours":0,"minutes":0}],
  "labelExpr": "hours(datum.value) == 0 && minutes(datum.value) == 0 ? timeFormat(datum.value, '%-m/%-d/%y') : ''",
  "labelAngle": 270, "labelFontSize": 20, "labelFont": "Lato", "labelColor": "#000", "labelPadding": 5,
  "labelOverlap": false, "labelFlush": false, "labelBound": false,
  "tickSize": 5, "tickColor": "#000", "domainColor": "#000", "domainWidth": 1.5}},
"y": {"field": "v", "type": "quantitative",
 "scale": {"domain": [0, 200], "nice": false},
 "axis": {"title": "Respirable Dust (µg/m³)", "titleFontSize": 22.5, "titleFontWeight": "bold", "titleFont": "Lato", "titleColor": "#000", "titlePadding": 16,
  "values": [0, 50, 100, 150, 200], "grid": false, "domainColor": "#404040", "domainWidth": 1.5, "tickColor": "#404040", "tickSize": 7,
  "labelFontSize": 20, "labelFont": "Lato", "labelColor": "#000", "labelPadding": 13}},
"color": {"field": "s", "type": "nominal",
 "scale": {"domain": ["STATION5","STATION6","STATION7","STATION8","STATION9","STATION10","STATION11"],
  "range": ["#00FF00","#8C8C8C","#E0A800","#4F81BD","#5F9B41","#8FA3D8","#F2A68A"]},
 "legend": {"orient": "none", "legendX": -34, "legendY": 896, "direction": "horizontal",
  "title": " ", "titleOrient": "left", "titlePadding": 57, "titleFontSize": 20,
  "padding": 10, "strokeColor": "#000", "fillColor": "white",
  "symbolType": "stroke", "symbolSize": 2025, "symbolStrokeWidth": 3,
  "labelFontSize": 21, "labelFont": "Lato", "labelColor": "#000", "labelOffset": 3, "columnPadding": 60, "labelLimit": 400,
  "labelExpr": "datum.label == 'STATION11' ? datum.label + '\u00a0\u00a0\u00a0\u00a0\u00a0\u00a0\u00a0\u00a0\u200b' : datum.label"}}
}
},
{
"transform": [{"filter": "datum.s != 'STATION5'"}],
"mark": {"type": "line", "strokeWidth": 3.5},
"encoding": {
"x": {"field": "t", "type": "temporal"},
"y": {"field": "v", "type": "quantitative"},
"color": {"field": "s", "type": "nominal",
 "scale": {"domain": ["STATION5","STATION6","STATION7","STATION8","STATION9","STATION10","STATION11"],
  "range": ["#00FF00","#8C8C8C","#E0A800","#4F81BD","#5F9B41","#8FA3D8","#F2A68A"]}}
}
},
{
"data": {"values": [{}]},
"mark": {"type": "rule", "color": "#FF0000", "strokeWidth": 3},
"encoding": {"y": {"datum": 150, "type": "quantitative"}}
},
{
"data": {"values": [{}]},
"mark": {"type": "text", "text": "15-Minute Perimeter Threshold Level = 150 µg/m³", "fontSize": 22, "font": "Lato", "color": "#000", "align": "center", "baseline": "middle"},
"encoding": {
"x": {"datum": {"year": 2021, "month": 9, "date": 21, "hours": 12, "minutes": 42}, "type": "temporal"},
"y": {"datum": 156.6, "type": "quantitative"}
}
}
]
}
